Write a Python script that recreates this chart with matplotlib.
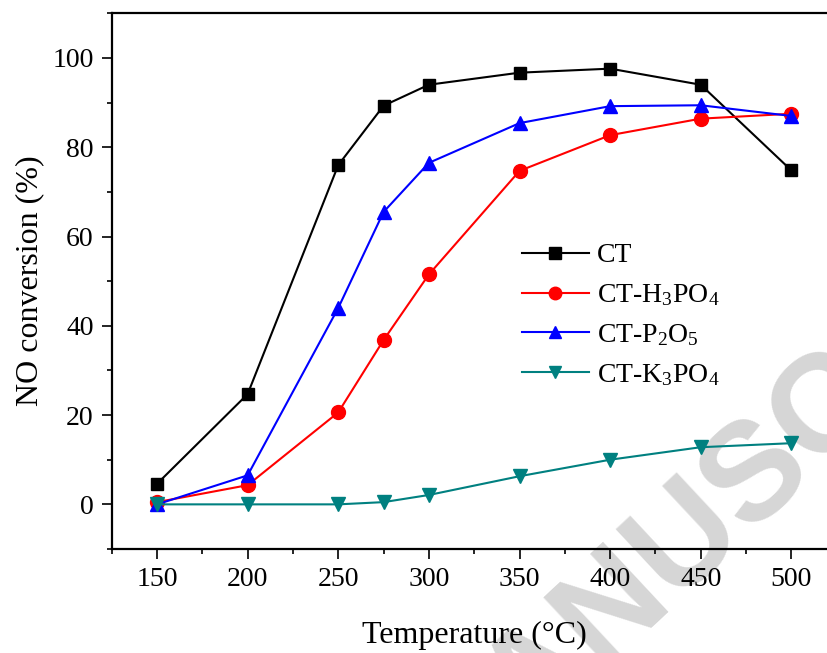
import matplotlib
matplotlib.use("Agg")
import matplotlib.pyplot as plt
from matplotlib.ticker import MultipleLocator

plt.rcParams['font.family'] = ['Liberation Serif', 'DejaVu Serif']
plt.rcParams['mathtext.fontset'] = 'custom'
plt.rcParams['mathtext.rm'] = 'Liberation Serif'
plt.rcParams['mathtext.it'] = 'Liberation Serif:italic'

temps = [150, 200, 250, 275, 300, 350, 400, 450, 500]
ct = [4.6, 24.7, 76.0, 89.3, 94.0, 96.7, 97.6, 94.0, 74.8]
ct_h3po4 = [0.5, 4.3, 20.6, 36.8, 51.5, 74.7, 82.7, 86.4, 87.5]
ct_p2o5 = [0.0, 6.5, 44.0, 65.5, 76.5, 85.4, 89.2, 89.4, 87.0]
ct_k3po4 = [0.0, 0.0, 0.0, 0.5, 2.1, 6.3, 10.0, 12.8, 13.7]
labels = ['CT', r'CT-H$_\mathregular{3}$PO$_\mathregular{4}$',
          r'CT-P$_\mathregular{2}$O$_\mathregular{5}$',
          r'CT-K$_\mathregular{3}$PO$_\mathregular{4}$']
xticks = [150, 200, 250, 300, 350, 400, 450, 500]
yticks = [0, 20, 40, 60, 80, 100]

fig = plt.figure(figsize=(8.27, 6.53), dpi=100)
ax_left, ax_bottom, ax_w, ax_h = 111.7/827, 104/653, 725/827, 535.7/653
ax = fig.add_axes([ax_left, ax_bottom, ax_w, ax_h])
ax.set_facecolor('none')

# watermark
fig.text(529/827, 1 - 739/653, 'ANUSCRIPT', fontsize=100, color='#d6d6d6',
         family='Liberation Sans', weight='bold', rotation=43,
         rotation_mode='anchor', ha='left', va='baseline', zorder=-5)

series = [ct, ct_h3po4, ct_p2o5, ct_k3po4]
colors = ['black', '#ff0000', '#0000ff', '#008080']
markers = ['s', 'o', '^', 'v']
msizes = [9, 10, 10, 10]
for y, c, m, ms, lab in zip(series, colors, markers, msizes, labels):
    ax.plot(temps, y, color=c, marker=m, markersize=ms, linewidth=1.5,
            label=lab, clip_on=False, zorder=3)

ax.set_xlim(125, 525)
ax.set_ylim(-10, 110)
ax.set_xticks(xticks)
ax.set_yticks(yticks)
ax.xaxis.set_minor_locator(MultipleLocator(25))
ax.yaxis.set_minor_locator(MultipleLocator(10))
ax.tick_params(which='major', direction='out', length=7, width=1.2, labelsize=20, pad=6)
ax.tick_params(which='minor', direction='out', length=3.5, width=1.2)
ax.tick_params(axis='x', which='both', top=False)
ax.tick_params(axis='y', which='both', right=False)
for s in ax.spines.values():
    s.set_linewidth(1.6)

ax.set_xlabel('Temperature (°C)', fontsize=23, labelpad=21)
ax.set_ylabel('NO conversion (%)', fontsize=23, labelpad=6)

ax.legend(loc='upper left', bbox_to_anchor=(497/827, 1 - 218/653),
          bbox_transform=fig.transFigure, frameon=False, fontsize=20,
          handlelength=2.4, handletextpad=0.3, labelspacing=0.5,
          markerscale=0.9)

fig.savefig('out.png', dpi=100)
